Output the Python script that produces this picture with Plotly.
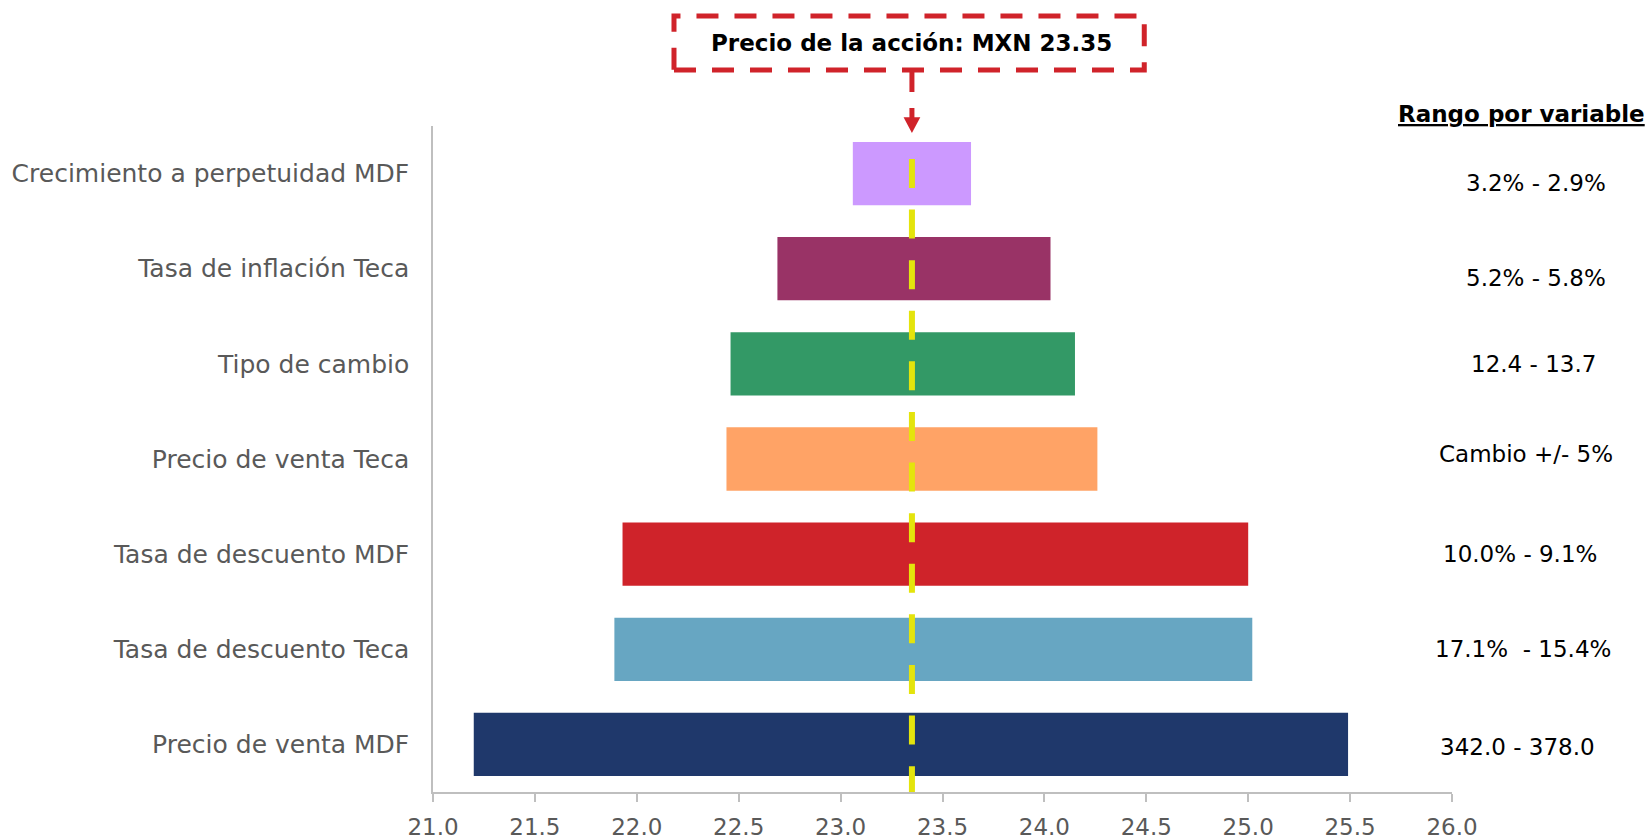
import plotly.graph_objects as go

# ---- data ----
variables = [
    "Crecimiento a perpetuidad MDF",
    "Tasa de inflación Teca",
    "Tipo de cambio",
    "Precio de venta Teca",
    "Tasa de descuento MDF",
    "Tasa de descuento Teca",
    "Precio de venta MDF",
]
low_values = [23.06, 22.69, 22.46, 22.44, 21.93, 21.89, 21.20]
high_values = [23.64, 24.03, 24.15, 24.26, 25.00, 25.02, 25.49]
ranges = [
    "3.2% - 2.9%",
    "5.2% - 5.8%",
    "12.4 - 13.7",
    "Cambio +/- 5%",
    "10.0% - 9.1%",
    "17.1%  - 15.4%",
    "342.0 - 378.0",
]
share_price = 23.35
x_ticks = [21.0, 21.5, 22.0, 22.5, 23.0, 23.5, 24.0, 24.5, 25.0, 25.5, 26.0]

# ---- styles ----
colors = ["#CC99FF", "#993366", "#339966", "#FFA366", "#CF232A", "#67A6C2", "#1F386B"]
range_yshift = [-9, -9, 0, 5, 0, 0, -3]
range_xshift = [11, 11, 9, 1, -5, -2, -7]
FONT = "DejaVu Sans"
GRAY = "#595959"
AXIS = "#BFBFBF"
RED = "#D0232A"
YELLOW = "#E4E40C"
XMIN, XMAX = x_ticks[0], x_ticks[-1]

fig = go.Figure()
fig.add_trace(go.Bar(
    y=variables,
    x=[h - l for h, l in zip(high_values, low_values)],
    base=low_values,
    orientation="h",
    width=0.665,
    marker=dict(color=colors, line=dict(width=0)),
    showlegend=False,
    hoverinfo="skip",
))

# yellow dashed price line
fig.add_shape(type="line", xref="x", yref="paper",
              x0=share_price, x1=share_price, y0=0.9505, y1=0.0,
              line=dict(color=YELLOW, width=6, dash="29px,21.6px"), layer="above")

# title box (dashed)
px = (share_price - XMIN) / (XMAX - XMIN)
fig.add_shape(type="rect", xref="paper", yref="paper",
              x0=0.2365, x1=0.698, y0=1.084, y1=1.165,
              line=dict(color=RED, width=5, dash="22px,16px"), fillcolor="rgba(0,0,0,0)")
fig.add_annotation(xref="paper", yref="paper", x=px, y=1.1246,
                   text="<b>Precio de la acción: MXN 23.35</b>", showarrow=False,
                   xanchor="center", yanchor="middle",
                   font=dict(family=FONT, size=23, color="black"))
# connector and arrowhead
fig.add_shape(type="line", xref="paper", yref="paper",
              x0=px, x1=px, y0=1.084, y1=1.010,
              line=dict(color=RED, width=5, dash="22px,16px"))
hw = 0.0082
fig.add_shape(type="path", xref="paper", yref="paper",
              path=f"M {px-hw},1.013 L {px+hw},1.013 L {px},0.9895 Z",
              fillcolor=RED, line=dict(color=RED, width=0))

# right-side header and ranges
fig.add_annotation(xref="paper", yref="paper", x=1.068, y=1.018,
                   text="<b><u>Rango por variable</u></b>", showarrow=False,
                   xanchor="center", yanchor="middle",
                   font=dict(family=FONT, size=23, color="black"))
for v, r, ys, xs in zip(variables, ranges, range_yshift, range_xshift):
    fig.add_annotation(xref="paper", yref="y", x=1.0716, y=v, yshift=ys, xshift=xs,
                       text=r, showarrow=False, xanchor="center", yanchor="middle",
                       font=dict(family=FONT, size=23, color="black"))

fig.update_layout(
    width=1652, height=840,
    margin=dict(l=433, r=200, t=126, b=48),
    paper_bgcolor="white", plot_bgcolor="white",
    font=dict(family=FONT, color=GRAY),
)
fig.update_xaxes(
    range=[XMIN, XMAX], tickvals=x_ticks, ticktext=[f"{t:.1f}" for t in x_ticks],
    showline=True, linecolor=AXIS, linewidth=1.5,
    ticks="outside", ticklen=8, tickcolor=AXIS, tickwidth=1.5,
    showgrid=False, zeroline=False, automargin=False,
    ticklabelstandoff=6,
    tickfont=dict(family=FONT, size=23, color=GRAY),
)
fig.update_yaxes(
    categoryorder="array", categoryarray=variables,
    range=[6.5, -0.5],
    showline=True, linecolor=AXIS, linewidth=1.5,
    ticks="", showgrid=False, zeroline=False, automargin=False,
    ticklabelstandoff=17,
    tickfont=dict(family=FONT, size=25, color=GRAY),
)

fig.write_html("out.html")
